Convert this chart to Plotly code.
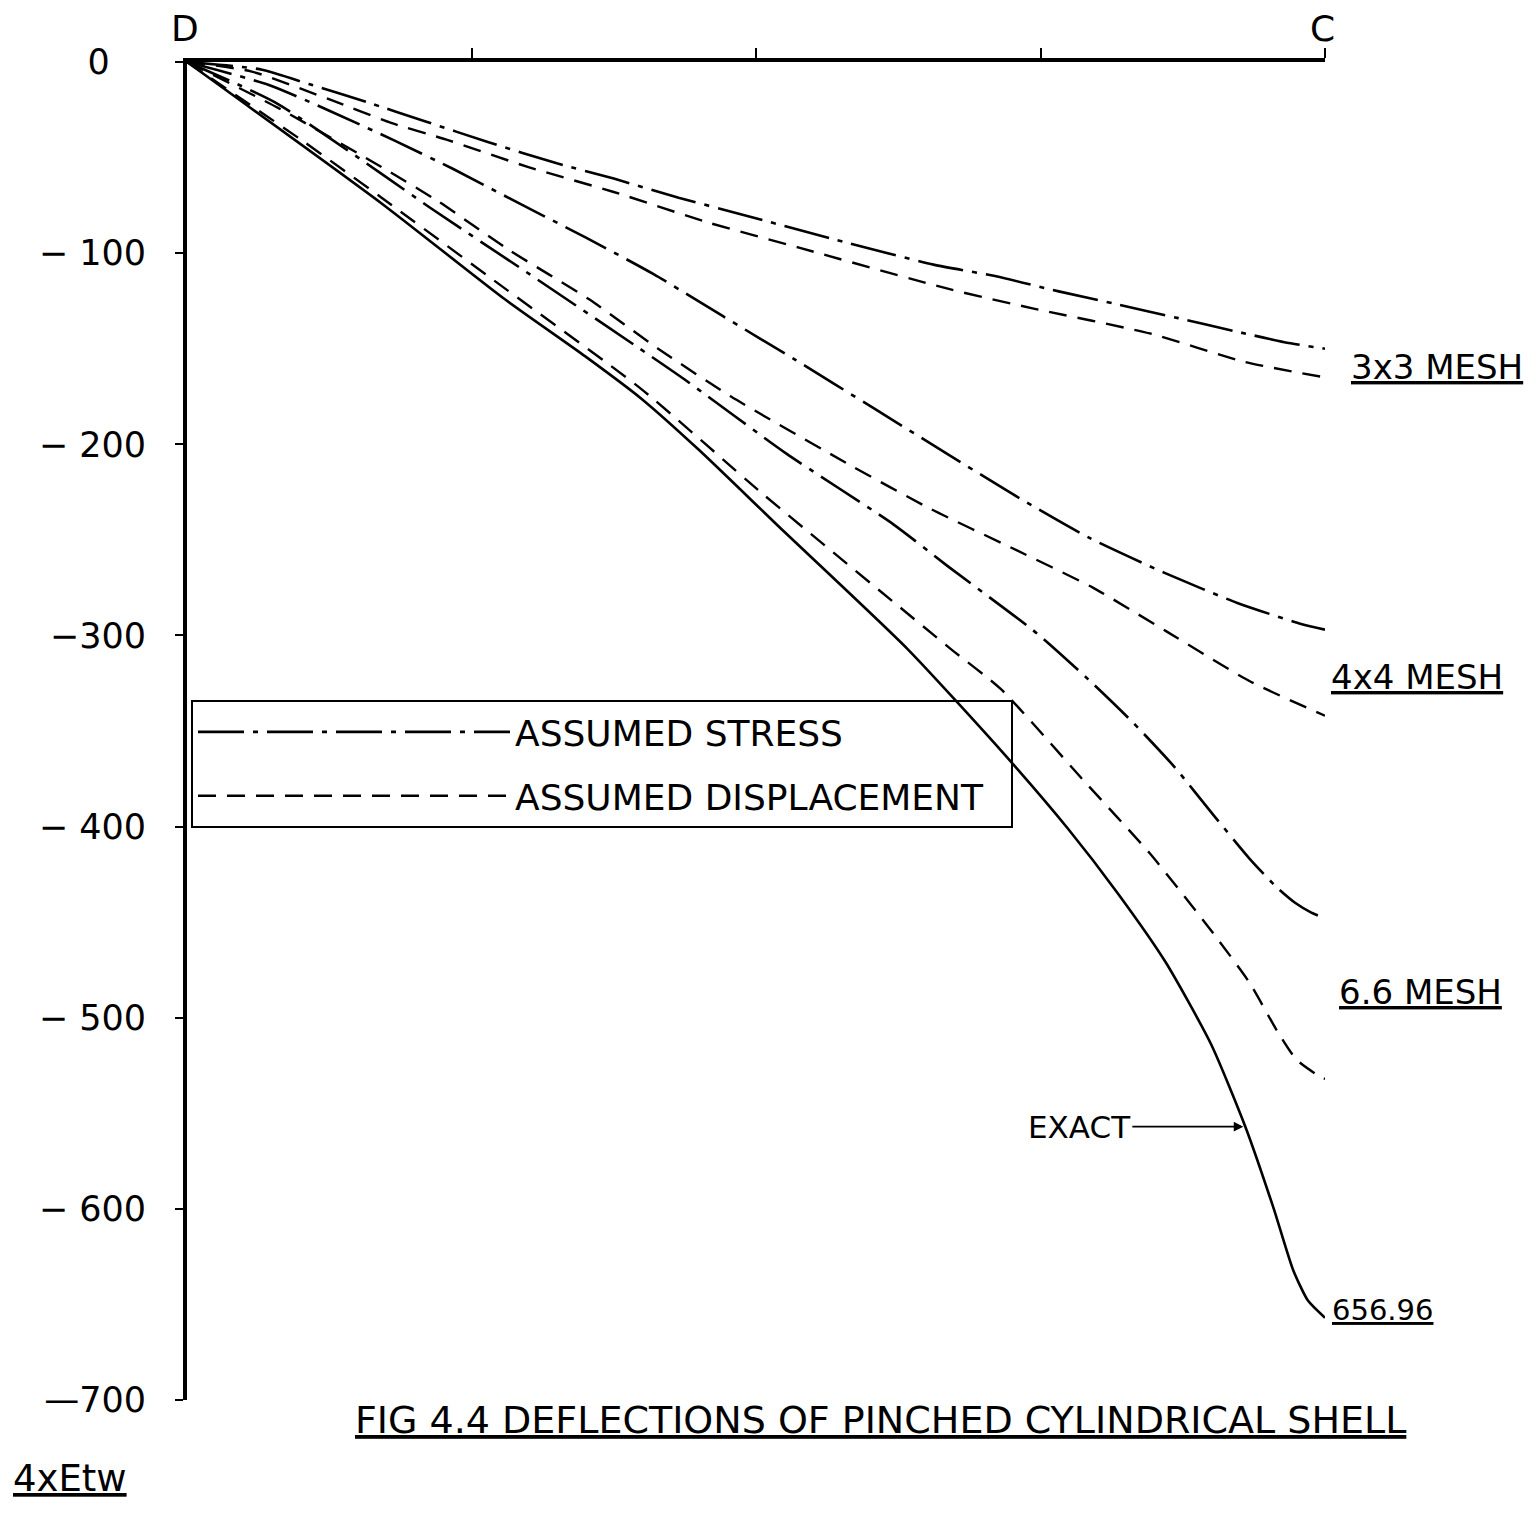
import plotly.graph_objects as go

# ---------------- data (x: fraction of distance D->C, y: 4xEtw deflection) ----
X_3X3_STRESS = [0, 0.066, 0.107, 0.158, 0.209, 0.265, 0.325, 0.375, 0.432, 0.489, 0.57, 0.656, 0.710, 0.766, 0.819, 0.871, 0.922, 0.968, 1.0]
Y_3X3_STRESS = [0, -4, -11.5, -21, -31, -42, -53, -61, -71, -80, -93, -106, -112, -120, -127, -134, -141, -147, -150]

X_3X3_DISP = [0, 0.057, 0.127, 0.18, 0.23, 0.30, 0.375, 0.458, 0.537, 0.671, 0.744, 0.846, 0.93, 1.0]
Y_3X3_DISP = [0, -5, -20, -32, -41, -55, -68, -84, -97, -119, -129, -142, -157, -165]

X_4X4_STRESS = [0, 0.072, 0.127, 0.182, 0.234, 0.292, 0.351, 0.410, 0.471, 0.535, 0.603, 0.668, 0.731, 0.793, 0.858, 0.923, 0.979, 1.0]
Y_4X4_STRESS = [0, -12, -26, -41, -56, -74, -92, -111, -133, -156, -181, -205, -228, -249, -267, -283, -294, -297]

X_4X4_DISP = [0, 0.08, 0.174, 0.221, 0.282, 0.353, 0.414, 0.478, 0.583, 0.654, 0.724, 0.796, 0.861, 0.934, 1.0]
Y_4X4_DISP = [0, -24, -56, -73, -98, -124, -150, -175, -211, -234, -254, -275, -298, -324, -342]

X_6X6_STRESS = [0, 0.077, 0.171, 0.213, 0.301, 0.393, 0.437, 0.527, 0.621, 0.669, 0.747, 0.792, 0.832, 0.868, 0.902, 0.934, 0.958, 0.974, 0.988, 1.0]
Y_6X6_STRESS = [0, -21, -58.5, -76, -111, -148, -166, -205, -242, -264, -299, -323, -346, -369, -394, -417, -432, -440, -445, -448]

X_6X6_DISP = [0, 0.101, 0.171, 0.276, 0.399, 0.506, 0.671, 0.715, 0.788, 0.846, 0.902, 0.934, 0.958, 0.975, 0.996, 1.0]
Y_6X6_DISP = [0, -41, -71, -117, -171, -226, -307, -328, -376, -414, -456, -482, -507, -522, -531, -532]

X_EXACT = [0, 0.171, 0.279, 0.35, 0.399, 0.45, 0.52, 0.633, 0.715, 0.774, 0.818, 0.860, 0.900, 0.930, 0.955, 0.972, 0.985, 1.0]
Y_EXACT = [0, -74, -124, -154, -176, -203, -243, -307, -360, -401, -435, -471, -514, -557, -600, -632, -648, -657]

Y_TICKS = [0, -100, -200, -300, -400, -500, -600, -700]
Y_TICK_TEXT = ["0\u2007\u2009\u2009", "\u2212 100", "\u2212 200", "\u2212300", "\u2212 400", "\u2212 500", "\u2212 600", "\u2014700"]
X_TICKS = [0.25, 0.5, 0.75, 1.0]

EXACT_VALUE = 656.96
FONT = "DejaVu Sans"

W, H = 1536, 1513
PAGE = 8  # default body margin of the html page
L, R, T, B = 179, 219, 54, 121
PW, PH = W - L - R, H - T - B


def pp(x, y):
    """screen pixel -> paper coordinates"""
    return (x - (L + PAGE)) / PW, 1 - (y - (T + PAGE)) / PH


STRESS_DASH = "46px,9px,5px,9px"
DISP_DASH = "18px,11px"

fig = go.Figure()

stress_sets = [(X_3X3_STRESS, Y_3X3_STRESS), (X_4X4_STRESS, Y_4X4_STRESS), (X_6X6_STRESS, Y_6X6_STRESS)]
disp_sets = [(X_3X3_DISP, Y_3X3_DISP), (X_4X4_DISP, Y_4X4_DISP), (X_6X6_DISP, Y_6X6_DISP)]

for i, (xs, ys) in enumerate(stress_sets):
    fig.add_trace(go.Scatter(
        x=xs, y=ys, mode="lines", name="ASSUMED STRESS",
        legendgroup="stress", showlegend=(i == 0),
        line=dict(color="black", width=2.6, dash=STRESS_DASH, shape="spline", smoothing=0.6),
        hoverinfo="skip"))

for i, (xs, ys) in enumerate(disp_sets):
    fig.add_trace(go.Scatter(
        x=xs, y=ys, mode="lines", name="ASSUMED DISPLACEMENT\u2007",
        legendgroup="disp", showlegend=(i == 0),
        line=dict(color="black", width=2.4, dash=DISP_DASH, shape="spline", smoothing=0.6),
        hoverinfo="skip"))

fig.add_trace(go.Scatter(
    x=X_EXACT, y=Y_EXACT, mode="lines", name="EXACT", showlegend=False,
    line=dict(color="black", width=2.6, shape="spline", smoothing=0.6),
    hoverinfo="skip"))

UL = lambda s: f'<span style="text-decoration:underline">{s}</span>'

ann = []
def text_at(px, py, txt, size=32, xanchor="center"):
    x, y = pp(px, py)
    ann.append(dict(x=x, y=y, xref="paper", yref="paper", text=txt, showarrow=False,
                    font=dict(family=FONT, size=size, color="black"), xanchor=xanchor, yanchor="middle"))

text_at(185, 28, "D", 36)
text_at(1322, 28, "C", 36)
text_at(1437, 367, UL("3x3 MESH"), 34)
text_at(1417, 677, UL("4x4 MESH"), 34)
text_at(1420, 992, UL("6.6 MESH"), 34)
text_at(1382, 1310, UL(f"{EXACT_VALUE:.2f}"), 29)
text_at(880, 1420, UL("FIG 4.4 DEFLECTIONS OF PINCHED CYLINDRICAL SHELL"), 38)
text_at(70, 1478, UL("4xEtw"), 37)

ann.append(dict(x=0.93, y=-557, xref="x", yref="y", text="EXACT", showarrow=True,
                ax=-166, ay=0, arrowhead=2, arrowsize=1.2, arrowwidth=1.6, arrowcolor="black",
                standoff=2, font=dict(family=FONT, size=31, color="black")))

fig.update_layout(
    width=W, height=H,
    margin=dict(l=L, r=R, t=T, b=B, autoexpand=False),
    paper_bgcolor="white", plot_bgcolor="white",
    annotations=ann,
    showlegend=True,
    legend=dict(
        x=pp(191, 0)[0], y=pp(0, 700)[1], xanchor="left", yanchor="top",
        bgcolor="rgba(0,0,0,0)", bordercolor="black", borderwidth=2,
        font=dict(family=FONT, size=36, color="black"),
        itemwidth=312, traceorder="grouped", tracegroupgap=14,
        itemclick=False, itemdoubleclick=False,
    ),
    xaxis=dict(
        range=[0, 1], side="top", showline=True, linecolor="black", linewidth=4,
        showgrid=False, zeroline=False, ticks="outside", ticklen=10, tickwidth=2,
        tickcolor="black", tickvals=X_TICKS, showticklabels=False, fixedrange=True,
    ),
    yaxis=dict(
        range=[-700, 0], showline=True, linecolor="black", linewidth=4,
        showgrid=False, zeroline=False, ticks="outside", ticklen=8, tickwidth=2,
        tickcolor="black", tickvals=Y_TICKS, ticktext=Y_TICK_TEXT,
        tickfont=dict(family=FONT, size=35, color="black"), ticklabelstandoff=22,
        fixedrange=True,
    ),
)

fig.write_html("out.html")
